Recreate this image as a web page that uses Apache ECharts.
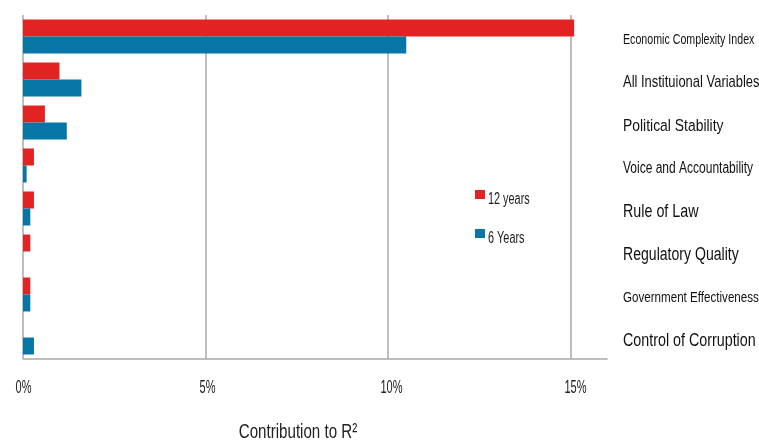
<!DOCTYPE html>
<html>
<head>
<meta charset="utf-8">
<script src="https://cdn.jsdelivr.net/npm/echarts@6/dist/echarts.min.js"></script>
<style>
  html, body { margin: 0; padding: 0; background: #ffffff; }
  #chart { width: 759px; height: 443px; }
</style>
</head>
<body>
<div id="chart"></div>
<script>
// Contribution of each variable to R², for the 12-year and 6-year windows (%)
const categories = [
  'Economic Complexity Index',
  'All Instituional Variables',
  'Political Stability',
  'Voice and Accountability',
  'Rule of Law',
  'Regulatory Quality',
  'Government Effectiveness',
  'Control of Corruption'
];
const seriesNames = ['12 years', '6 Years'];
const twelveYears = [15.1, 1.0, 0.6, 0.3, 0.3, 0.2, 0.2, 0];
const sixYears = [10.5, 1.6, 1.2, 0.1, 0.2, 0, 0.2, 0.3];
const xTicks = [0, 5, 10, 15];
const xAxisTitle = 'Contribution to R²';

// Typography: a horizontally squeezed sans for all chart text
const FONT = '"Liberation Sans", Arial, sans-serif';
const labelSizes = [15, 16.2, 17.4, 16, 17.9, 17.6, 14.7, 18.1];
const labelSqueeze = [0.71, 0.8, 0.8, 0.75, 0.8, 0.8, 0.79, 0.79];

const RED = '#e32322';
const BLUE = '#0776a7';
const GRID = '#a9a9a9';
const X_MAX = 16;

// Legend geometry
const LEGEND_LEFT = 470;
const LEGEND_TOP = 185;
const LEGEND_PITCH = 39;

const chart = echarts.init(document.getElementById('chart'), null, { renderer: 'canvas' });

chart.setOption({
  animation: false,
  backgroundColor: '#ffffff',
  textStyle: { fontFamily: FONT },
  grid: { left: 23, right: 152, top: 15, bottom: 84, containLabel: false, outerBoundsMode: 'none' },
  legend: {
    orient: 'vertical',
    left: LEGEND_LEFT,
    top: LEGEND_TOP,
    padding: 5,
    itemWidth: 10,
    itemHeight: 9,
    itemGap: LEGEND_PITCH - 9,
    icon: 'rect',
    formatter: () => '',
    textStyle: { fontSize: 8, lineHeight: 9 },
    data: seriesNames
  },
  xAxis: {
    type: 'value',
    min: xTicks[0],
    max: X_MAX,
    interval: xTicks[1] - xTicks[0],
    axisLine: { show: true, lineStyle: { color: GRID, width: 1.5 } },
    axisTick: { show: false },
    axisLabel: { show: false },
    splitLine: { show: true, showMaxLine: false, lineStyle: { color: GRID, width: 1.5 } }
  },
  yAxis: {
    type: 'category',
    inverse: true,
    position: 'right',
    data: categories,
    axisLine: { show: false },
    axisTick: { show: false },
    axisLabel: { show: false },
    splitLine: { show: false }
  },
  series: [
    {
      name: seriesNames[0],
      type: 'bar',
      data: twelveYears,
      barWidth: 17,
      barGap: '0%',
      itemStyle: { color: RED }
    },
    {
      name: seriesNames[1],
      type: 'bar',
      data: sixYears,
      barWidth: 17,
      barGap: '0%',
      itemStyle: { color: BLUE }
    }
  ]
});

// Texts placed through the axes' own pixel conversion, squeezed horizontally
function squeezedText(text, x, y, size, squeeze, align, color) {
  return {
    type: 'text',
    x: x,
    y: y,
    scaleX: squeeze,
    silent: true,
    style: {
      text: text,
      fontFamily: FONT,
      fontSize: size,
      fill: color,
      align: align,
      verticalAlign: 'middle'
    }
  };
}

const plotRight = chart.convertToPixel({ xAxisIndex: 0 }, X_MAX);
const plotLeft = chart.convertToPixel({ xAxisIndex: 0 }, xTicks[0]);
const plotBottom = chart.convertToPixel({ yAxisIndex: 0 }, categories.length - 1) + 21.5;

const graphics = [];
categories.forEach((name, i) => {
  const y = chart.convertToPixel({ yAxisIndex: 0 }, i);
  graphics.push(squeezedText(name, plotRight + 16, y + 3.5, labelSizes[i], labelSqueeze[i], 'left', '#111'));
});
xTicks.forEach(t => {
  const x = chart.convertToPixel({ xAxisIndex: 0 }, t);
  graphics.push(squeezedText(t + '%', x + 0.5 + t * 0.3, plotBottom + 29, 17.5, 0.63, 'center', '#222'));
});
graphics.push(squeezedText(xAxisTitle, (plotLeft + plotRight) / 2 - 17, plotBottom + 73, 21, 0.72, 'center', '#222'));

// Legend names beside the legend swatches
seriesNames.forEach((name, i) => {
  graphics.push(squeezedText(name, LEGEND_LEFT + 5 + 10 + 3,
    LEGEND_TOP + 5 + 4.5 + i * LEGEND_PITCH + 5, 16, 0.68, 'left', '#222'));
});

chart.setOption({ graphic: graphics });
</script>
</body>
</html>
